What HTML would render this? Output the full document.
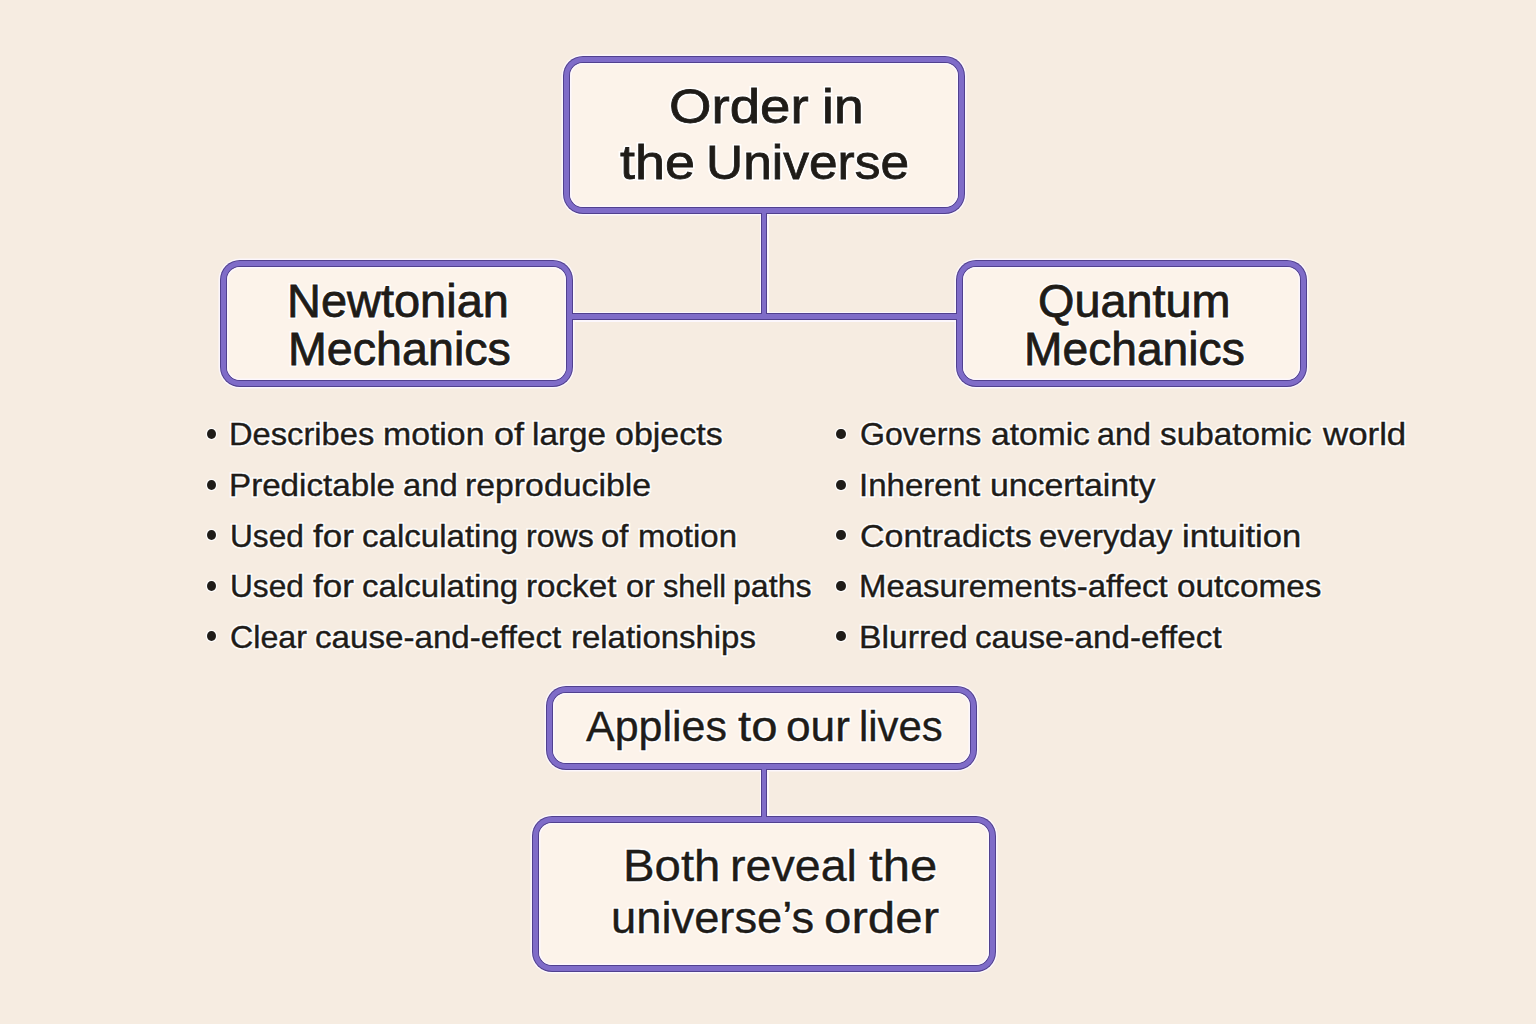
<!DOCTYPE html><html><head><meta charset="utf-8"><style>
html,body{margin:0;padding:0;width:1536px;height:1024px;overflow:hidden;background:#f6ece1;}
.b{position:absolute;box-sizing:border-box;border-radius:20px;background:#51408f;padding:1px;box-shadow:0 0 0 1.5px rgba(253,248,255,0.9);}
.b>div{width:100%;height:100%;box-sizing:border-box;border-radius:19px;background:#7f6cc8;padding:5px;}
.b>div>div{width:100%;height:100%;box-sizing:border-box;border-radius:14px;background:#51408f;padding:1px;}
.b>div>div>div{width:100%;height:100%;box-sizing:border-box;border-radius:13px;background:#fcf3ea;box-shadow:inset 0 0 0 1.5px rgba(253,248,255,0.9);}
.h{position:absolute;background:rgba(253,248,255,0.9);}
.k{position:absolute;background:#51408f;}
.g{position:absolute;background:#7f6cc8;}
.t{position:absolute;white-space:nowrap;font-family:"Liberation Sans",sans-serif;color:#1f1c18;line-height:1;transform-origin:0 0;}
.th{position:absolute;white-space:nowrap;font-family:"Liberation Sans",sans-serif;color:rgba(255,255,255,0.9);line-height:1;transform-origin:0 0;}
.d{position:absolute;border-radius:50%;background:#1f1c18;box-shadow:0 0 0 1.3px rgba(255,255,255,0.85);}
</style></head><body>
<div class="b" style="left:563px;top:56px;width:402px;height:158px"><div><div><div></div></div></div></div>
<div class="b" style="left:220px;top:260px;width:353px;height:127px"><div><div><div></div></div></div></div>
<div class="b" style="left:956px;top:260px;width:351px;height:127px"><div><div><div></div></div></div></div>
<div class="b" style="left:546px;top:686px;width:431px;height:84px"><div><div><div></div></div></div></div>
<div class="b" style="left:532px;top:816px;width:464px;height:156px"><div><div><div></div></div></div></div>
<div class="h" style="left:759.5px;top:215.5px;width:9px;height:96px"></div>
<div class="h" style="left:574.5px;top:311.5px;width:380px;height:10px"></div>
<div class="h" style="left:759.5px;top:771.5px;width:9px;height:43px"></div>
<div class="k" style="left:761px;top:213px;width:6px;height:101px"></div>
<div class="k" style="left:572px;top:313px;width:385px;height:7px"></div>
<div class="k" style="left:761px;top:769px;width:6px;height:48px"></div>
<div class="g" style="left:762px;top:211px;width:4px;height:105px"></div>
<div class="g" style="left:570px;top:314px;width:389px;height:5px"></div>
<div class="g" style="left:762px;top:767px;width:4px;height:52px"></div>
<div class="th" style="left:669.45px;top:82.02px;font-size:49px;-webkit-text-stroke:4.00px rgba(255,255,255,0.9);transform:scaleX(1.1144)">Order</div>
<div class="th" style="left:821.55px;top:82.02px;font-size:49px;-webkit-text-stroke:4.00px rgba(255,255,255,0.9);transform:scaleX(1.0909)">in</div>
<div class="th" style="left:619.61px;top:138.42px;font-size:49px;-webkit-text-stroke:4.00px rgba(255,255,255,0.9);transform:scaleX(1.0997)">the</div>
<div class="th" style="left:705.95px;top:138.42px;font-size:49px;-webkit-text-stroke:4.00px rgba(255,255,255,0.9);transform:scaleX(1.0501)">Universe</div>
<div class="th" style="left:287.14px;top:278.01px;font-size:46px;-webkit-text-stroke:4.00px rgba(255,255,255,0.9);transform:scaleX(1.0207)">Newtonian</div>
<div class="th" style="left:287.99px;top:325.76px;font-size:46px;-webkit-text-stroke:4.00px rgba(255,255,255,0.9);transform:scaleX(1.0136)">Mechanics</div>
<div class="th" style="left:1037.59px;top:278.46px;font-size:46px;-webkit-text-stroke:4.00px rgba(255,255,255,0.9);transform:scaleX(1.0176)">Quantum</div>
<div class="th" style="left:1024.41px;top:326.46px;font-size:46px;-webkit-text-stroke:4.00px rgba(255,255,255,0.9);transform:scaleX(1.0040)">Mechanics</div>
<div class="th" style="left:229.25px;top:418.46px;font-size:32px;-webkit-text-stroke:3.60px rgba(255,255,255,0.9);transform:scaleX(1.0208)">Describes</div>
<div class="th" style="left:383.19px;top:418.46px;font-size:32px;-webkit-text-stroke:3.60px rgba(255,255,255,0.9);transform:scaleX(1.0563)">motion</div>
<div class="th" style="left:493.86px;top:418.46px;font-size:32px;-webkit-text-stroke:3.60px rgba(255,255,255,0.9);transform:scaleX(1.1265)">of</div>
<div class="th" style="left:532.44px;top:418.46px;font-size:32px;-webkit-text-stroke:3.60px rgba(255,255,255,0.9);transform:scaleX(1.0394)">large</div>
<div class="th" style="left:615.00px;top:418.46px;font-size:32px;-webkit-text-stroke:3.60px rgba(255,255,255,0.9);transform:scaleX(1.0622)">objects</div>
<div class="th" style="left:229.13px;top:468.51px;font-size:32px;-webkit-text-stroke:3.60px rgba(255,255,255,0.9);transform:scaleX(1.0367)">Predictable</div>
<div class="th" style="left:402.67px;top:468.51px;font-size:32px;-webkit-text-stroke:3.60px rgba(255,255,255,0.9);transform:scaleX(1.0234)">and</div>
<div class="th" style="left:464.55px;top:468.51px;font-size:32px;-webkit-text-stroke:3.60px rgba(255,255,255,0.9);transform:scaleX(1.0561)">reproducible</div>
<div class="th" style="left:229.91px;top:519.51px;font-size:32px;-webkit-text-stroke:3.60px rgba(255,255,255,0.9);transform:scaleX(0.9881)">Used</div>
<div class="th" style="left:313.09px;top:519.51px;font-size:32px;-webkit-text-stroke:3.60px rgba(255,255,255,0.9);transform:scaleX(1.0919)">for</div>
<div class="th" style="left:362.08px;top:519.51px;font-size:32px;-webkit-text-stroke:3.60px rgba(255,255,255,0.9);transform:scaleX(1.0334)">calculating</div>
<div class="th" style="left:525.86px;top:519.51px;font-size:32px;-webkit-text-stroke:3.60px rgba(255,255,255,0.9);transform:scaleX(1.0019)">rows</div>
<div class="th" style="left:601.27px;top:519.51px;font-size:32px;-webkit-text-stroke:3.60px rgba(255,255,255,0.9);transform:scaleX(1.0305)">of</div>
<div class="th" style="left:638.25px;top:519.51px;font-size:32px;-webkit-text-stroke:3.60px rgba(255,255,255,0.9);transform:scaleX(1.0305)">motion</div>
<div class="th" style="left:229.91px;top:570.11px;font-size:32px;-webkit-text-stroke:3.60px rgba(255,255,255,0.9);transform:scaleX(0.9881)">Used</div>
<div class="th" style="left:313.09px;top:570.11px;font-size:32px;-webkit-text-stroke:3.60px rgba(255,255,255,0.9);transform:scaleX(1.0919)">for</div>
<div class="th" style="left:362.08px;top:570.11px;font-size:32px;-webkit-text-stroke:3.60px rgba(255,255,255,0.9);transform:scaleX(1.0334)">calculating</div>
<div class="th" style="left:526.46px;top:570.11px;font-size:32px;-webkit-text-stroke:3.60px rgba(255,255,255,0.9);transform:scaleX(1.0368)">rocket</div>
<div class="th" style="left:625.82px;top:570.11px;font-size:32px;-webkit-text-stroke:3.60px rgba(255,255,255,0.9);transform:scaleX(1.0155)">or</div>
<div class="th" style="left:662.91px;top:570.11px;font-size:32px;-webkit-text-stroke:3.60px rgba(255,255,255,0.9);transform:scaleX(0.9594)">shell</div>
<div class="th" style="left:733.10px;top:570.11px;font-size:32px;-webkit-text-stroke:3.60px rgba(255,255,255,0.9);transform:scaleX(1.0040)">paths</div>
<div class="th" style="left:230.26px;top:620.61px;font-size:32px;-webkit-text-stroke:3.60px rgba(255,255,255,0.9);transform:scaleX(1.0059)">Clear</div>
<div class="th" style="left:315.46px;top:620.61px;font-size:32px;-webkit-text-stroke:3.60px rgba(255,255,255,0.9);transform:scaleX(1.0356)">cause-and-effect</div>
<div class="th" style="left:571.06px;top:620.61px;font-size:32px;-webkit-text-stroke:3.60px rgba(255,255,255,0.9);transform:scaleX(1.0291)">relationships</div>
<div class="th" style="left:860.30px;top:418.46px;font-size:32px;-webkit-text-stroke:3.60px rgba(255,255,255,0.9);transform:scaleX(1.0027)">Governs</div>
<div class="th" style="left:990.80px;top:418.46px;font-size:32px;-webkit-text-stroke:3.60px rgba(255,255,255,0.9);transform:scaleX(1.0495)">atomic</div>
<div class="th" style="left:1097.28px;top:418.46px;font-size:32px;-webkit-text-stroke:3.60px rgba(255,255,255,0.9);transform:scaleX(1.0080)">and</div>
<div class="th" style="left:1159.70px;top:418.46px;font-size:32px;-webkit-text-stroke:3.60px rgba(255,255,255,0.9);transform:scaleX(1.0402)">subatomic</div>
<div class="th" style="left:1322.58px;top:418.46px;font-size:32px;-webkit-text-stroke:3.60px rgba(255,255,255,0.9);transform:scaleX(1.0886)">world</div>
<div class="th" style="left:859.32px;top:468.51px;font-size:32px;-webkit-text-stroke:3.60px rgba(255,255,255,0.9);transform:scaleX(1.0329)">Inherent</div>
<div class="th" style="left:989.98px;top:468.51px;font-size:32px;-webkit-text-stroke:3.60px rgba(255,255,255,0.9);transform:scaleX(1.0564)">uncertainty</div>
<div class="th" style="left:860.02px;top:519.51px;font-size:32px;-webkit-text-stroke:3.60px rgba(255,255,255,0.9);transform:scaleX(1.0613)">Contradicts</div>
<div class="th" style="left:1038.86px;top:519.51px;font-size:32px;-webkit-text-stroke:3.60px rgba(255,255,255,0.9);transform:scaleX(1.0269)">everyday</div>
<div class="th" style="left:1181.64px;top:519.51px;font-size:32px;-webkit-text-stroke:3.60px rgba(255,255,255,0.9);transform:scaleX(1.0809)">intuition</div>
<div class="th" style="left:859.19px;top:570.11px;font-size:32px;-webkit-text-stroke:3.60px rgba(255,255,255,0.9);transform:scaleX(1.0287)">Measurements-affect</div>
<div class="th" style="left:1177.05px;top:570.11px;font-size:32px;-webkit-text-stroke:3.60px rgba(255,255,255,0.9);transform:scaleX(1.0406)">outcomes</div>
<div class="th" style="left:859.00px;top:620.61px;font-size:32px;-webkit-text-stroke:3.60px rgba(255,255,255,0.9);transform:scaleX(1.0533)">Blurred</div>
<div class="th" style="left:975.08px;top:620.61px;font-size:32px;-webkit-text-stroke:3.60px rgba(255,255,255,0.9);transform:scaleX(1.0371)">cause-and-effect</div>
<div class="th" style="left:585.84px;top:705.55px;font-size:42px;-webkit-text-stroke:3.55px rgba(255,255,255,0.9);transform:scaleX(1.0235)">Applies</div>
<div class="th" style="left:738.07px;top:705.55px;font-size:42px;-webkit-text-stroke:3.55px rgba(255,255,255,0.9);transform:scaleX(1.1273)">to</div>
<div class="th" style="left:785.62px;top:705.55px;font-size:42px;-webkit-text-stroke:3.55px rgba(255,255,255,0.9);transform:scaleX(1.0534)">our</div>
<div class="th" style="left:859.08px;top:705.55px;font-size:42px;-webkit-text-stroke:3.55px rgba(255,255,255,0.9);transform:scaleX(0.9961)">lives</div>
<div class="th" style="left:623.44px;top:844.45px;font-size:44px;-webkit-text-stroke:3.55px rgba(255,255,255,0.9);transform:scaleX(1.0758)">Both</div>
<div class="th" style="left:730.10px;top:844.45px;font-size:44px;-webkit-text-stroke:3.55px rgba(255,255,255,0.9);transform:scaleX(1.0592)">reveal</div>
<div class="th" style="left:868.62px;top:844.45px;font-size:44px;-webkit-text-stroke:3.55px rgba(255,255,255,0.9);transform:scaleX(1.1150)">the</div>
<div class="th" style="left:610.93px;top:896.25px;font-size:44px;-webkit-text-stroke:3.55px rgba(255,255,255,0.9);transform:scaleX(1.0301)">universe’s</div>
<div class="th" style="left:824.44px;top:896.25px;font-size:44px;-webkit-text-stroke:3.55px rgba(255,255,255,0.9);transform:scaleX(1.1208)">order</div>
<div class="t" style="left:669.45px;top:82.02px;font-size:49px;-webkit-text-stroke:0.8px #1f1c18;transform:scaleX(1.1144)">Order</div>
<div class="t" style="left:821.55px;top:82.02px;font-size:49px;-webkit-text-stroke:0.8px #1f1c18;transform:scaleX(1.0909)">in</div>
<div class="t" style="left:619.61px;top:138.42px;font-size:49px;-webkit-text-stroke:0.8px #1f1c18;transform:scaleX(1.0997)">the</div>
<div class="t" style="left:705.95px;top:138.42px;font-size:49px;-webkit-text-stroke:0.8px #1f1c18;transform:scaleX(1.0501)">Universe</div>
<div class="t" style="left:287.14px;top:278.01px;font-size:46px;-webkit-text-stroke:0.8px #1f1c18;transform:scaleX(1.0207)">Newtonian</div>
<div class="t" style="left:287.99px;top:325.76px;font-size:46px;-webkit-text-stroke:0.8px #1f1c18;transform:scaleX(1.0136)">Mechanics</div>
<div class="t" style="left:1037.59px;top:278.46px;font-size:46px;-webkit-text-stroke:0.8px #1f1c18;transform:scaleX(1.0176)">Quantum</div>
<div class="t" style="left:1024.41px;top:326.46px;font-size:46px;-webkit-text-stroke:0.8px #1f1c18;transform:scaleX(1.0040)">Mechanics</div>
<div class="t" style="left:229.25px;top:418.46px;font-size:32px;-webkit-text-stroke:0.4px #1f1c18;transform:scaleX(1.0208)">Describes</div>
<div class="t" style="left:383.19px;top:418.46px;font-size:32px;-webkit-text-stroke:0.4px #1f1c18;transform:scaleX(1.0563)">motion</div>
<div class="t" style="left:493.86px;top:418.46px;font-size:32px;-webkit-text-stroke:0.4px #1f1c18;transform:scaleX(1.1265)">of</div>
<div class="t" style="left:532.44px;top:418.46px;font-size:32px;-webkit-text-stroke:0.4px #1f1c18;transform:scaleX(1.0394)">large</div>
<div class="t" style="left:615.00px;top:418.46px;font-size:32px;-webkit-text-stroke:0.4px #1f1c18;transform:scaleX(1.0622)">objects</div>
<div class="t" style="left:229.13px;top:468.51px;font-size:32px;-webkit-text-stroke:0.4px #1f1c18;transform:scaleX(1.0367)">Predictable</div>
<div class="t" style="left:402.67px;top:468.51px;font-size:32px;-webkit-text-stroke:0.4px #1f1c18;transform:scaleX(1.0234)">and</div>
<div class="t" style="left:464.55px;top:468.51px;font-size:32px;-webkit-text-stroke:0.4px #1f1c18;transform:scaleX(1.0561)">reproducible</div>
<div class="t" style="left:229.91px;top:519.51px;font-size:32px;-webkit-text-stroke:0.4px #1f1c18;transform:scaleX(0.9881)">Used</div>
<div class="t" style="left:313.09px;top:519.51px;font-size:32px;-webkit-text-stroke:0.4px #1f1c18;transform:scaleX(1.0919)">for</div>
<div class="t" style="left:362.08px;top:519.51px;font-size:32px;-webkit-text-stroke:0.4px #1f1c18;transform:scaleX(1.0334)">calculating</div>
<div class="t" style="left:525.86px;top:519.51px;font-size:32px;-webkit-text-stroke:0.4px #1f1c18;transform:scaleX(1.0019)">rows</div>
<div class="t" style="left:601.27px;top:519.51px;font-size:32px;-webkit-text-stroke:0.4px #1f1c18;transform:scaleX(1.0305)">of</div>
<div class="t" style="left:638.25px;top:519.51px;font-size:32px;-webkit-text-stroke:0.4px #1f1c18;transform:scaleX(1.0305)">motion</div>
<div class="t" style="left:229.91px;top:570.11px;font-size:32px;-webkit-text-stroke:0.4px #1f1c18;transform:scaleX(0.9881)">Used</div>
<div class="t" style="left:313.09px;top:570.11px;font-size:32px;-webkit-text-stroke:0.4px #1f1c18;transform:scaleX(1.0919)">for</div>
<div class="t" style="left:362.08px;top:570.11px;font-size:32px;-webkit-text-stroke:0.4px #1f1c18;transform:scaleX(1.0334)">calculating</div>
<div class="t" style="left:526.46px;top:570.11px;font-size:32px;-webkit-text-stroke:0.4px #1f1c18;transform:scaleX(1.0368)">rocket</div>
<div class="t" style="left:625.82px;top:570.11px;font-size:32px;-webkit-text-stroke:0.4px #1f1c18;transform:scaleX(1.0155)">or</div>
<div class="t" style="left:662.91px;top:570.11px;font-size:32px;-webkit-text-stroke:0.4px #1f1c18;transform:scaleX(0.9594)">shell</div>
<div class="t" style="left:733.10px;top:570.11px;font-size:32px;-webkit-text-stroke:0.4px #1f1c18;transform:scaleX(1.0040)">paths</div>
<div class="t" style="left:230.26px;top:620.61px;font-size:32px;-webkit-text-stroke:0.4px #1f1c18;transform:scaleX(1.0059)">Clear</div>
<div class="t" style="left:315.46px;top:620.61px;font-size:32px;-webkit-text-stroke:0.4px #1f1c18;transform:scaleX(1.0356)">cause-and-effect</div>
<div class="t" style="left:571.06px;top:620.61px;font-size:32px;-webkit-text-stroke:0.4px #1f1c18;transform:scaleX(1.0291)">relationships</div>
<div class="t" style="left:860.30px;top:418.46px;font-size:32px;-webkit-text-stroke:0.4px #1f1c18;transform:scaleX(1.0027)">Governs</div>
<div class="t" style="left:990.80px;top:418.46px;font-size:32px;-webkit-text-stroke:0.4px #1f1c18;transform:scaleX(1.0495)">atomic</div>
<div class="t" style="left:1097.28px;top:418.46px;font-size:32px;-webkit-text-stroke:0.4px #1f1c18;transform:scaleX(1.0080)">and</div>
<div class="t" style="left:1159.70px;top:418.46px;font-size:32px;-webkit-text-stroke:0.4px #1f1c18;transform:scaleX(1.0402)">subatomic</div>
<div class="t" style="left:1322.58px;top:418.46px;font-size:32px;-webkit-text-stroke:0.4px #1f1c18;transform:scaleX(1.0886)">world</div>
<div class="t" style="left:859.32px;top:468.51px;font-size:32px;-webkit-text-stroke:0.4px #1f1c18;transform:scaleX(1.0329)">Inherent</div>
<div class="t" style="left:989.98px;top:468.51px;font-size:32px;-webkit-text-stroke:0.4px #1f1c18;transform:scaleX(1.0564)">uncertainty</div>
<div class="t" style="left:860.02px;top:519.51px;font-size:32px;-webkit-text-stroke:0.4px #1f1c18;transform:scaleX(1.0613)">Contradicts</div>
<div class="t" style="left:1038.86px;top:519.51px;font-size:32px;-webkit-text-stroke:0.4px #1f1c18;transform:scaleX(1.0269)">everyday</div>
<div class="t" style="left:1181.64px;top:519.51px;font-size:32px;-webkit-text-stroke:0.4px #1f1c18;transform:scaleX(1.0809)">intuition</div>
<div class="t" style="left:859.19px;top:570.11px;font-size:32px;-webkit-text-stroke:0.4px #1f1c18;transform:scaleX(1.0287)">Measurements-affect</div>
<div class="t" style="left:1177.05px;top:570.11px;font-size:32px;-webkit-text-stroke:0.4px #1f1c18;transform:scaleX(1.0406)">outcomes</div>
<div class="t" style="left:859.00px;top:620.61px;font-size:32px;-webkit-text-stroke:0.4px #1f1c18;transform:scaleX(1.0533)">Blurred</div>
<div class="t" style="left:975.08px;top:620.61px;font-size:32px;-webkit-text-stroke:0.4px #1f1c18;transform:scaleX(1.0371)">cause-and-effect</div>
<div class="t" style="left:585.84px;top:705.55px;font-size:42px;-webkit-text-stroke:0.35px #1f1c18;transform:scaleX(1.0235)">Applies</div>
<div class="t" style="left:738.07px;top:705.55px;font-size:42px;-webkit-text-stroke:0.35px #1f1c18;transform:scaleX(1.1273)">to</div>
<div class="t" style="left:785.62px;top:705.55px;font-size:42px;-webkit-text-stroke:0.35px #1f1c18;transform:scaleX(1.0534)">our</div>
<div class="t" style="left:859.08px;top:705.55px;font-size:42px;-webkit-text-stroke:0.35px #1f1c18;transform:scaleX(0.9961)">lives</div>
<div class="t" style="left:623.44px;top:844.45px;font-size:44px;-webkit-text-stroke:0.35px #1f1c18;transform:scaleX(1.0758)">Both</div>
<div class="t" style="left:730.10px;top:844.45px;font-size:44px;-webkit-text-stroke:0.35px #1f1c18;transform:scaleX(1.0592)">reveal</div>
<div class="t" style="left:868.62px;top:844.45px;font-size:44px;-webkit-text-stroke:0.35px #1f1c18;transform:scaleX(1.1150)">the</div>
<div class="t" style="left:610.93px;top:896.25px;font-size:44px;-webkit-text-stroke:0.35px #1f1c18;transform:scaleX(1.0301)">universe’s</div>
<div class="t" style="left:824.44px;top:896.25px;font-size:44px;-webkit-text-stroke:0.35px #1f1c18;transform:scaleX(1.1208)">order</div>
<div class="d" style="left:206.80px;top:429.30px;width:9.20px;height:10.00px"></div>
<div class="d" style="left:206.80px;top:479.80px;width:9.20px;height:10.00px"></div>
<div class="d" style="left:206.80px;top:530.20px;width:9.20px;height:10.00px"></div>
<div class="d" style="left:206.80px;top:580.80px;width:9.20px;height:10.00px"></div>
<div class="d" style="left:206.80px;top:631.30px;width:9.20px;height:10.00px"></div>
<div class="d" style="left:836.40px;top:429.30px;width:9.20px;height:10.00px"></div>
<div class="d" style="left:836.40px;top:479.80px;width:9.20px;height:10.00px"></div>
<div class="d" style="left:836.40px;top:530.20px;width:9.20px;height:10.00px"></div>
<div class="d" style="left:836.40px;top:580.80px;width:9.20px;height:10.00px"></div>
<div class="d" style="left:836.40px;top:631.30px;width:9.20px;height:10.00px"></div>
</body></html>
